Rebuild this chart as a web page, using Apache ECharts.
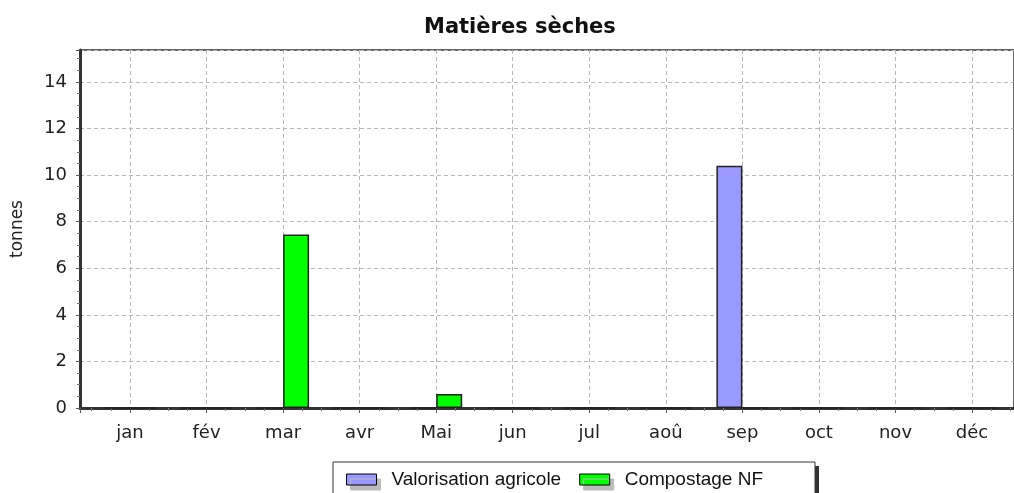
<!DOCTYPE html>
<html>
<head>
<meta charset="utf-8">
<script src="https://cdn.jsdelivr.net/npm/echarts@6/dist/echarts.min.js"></script>
<style>
    html, body { margin: 0; padding: 0; background: #fff; }
    #chart { width: 1014px; height: 493px; }
</style>
</head>
<body>
<div id="chart"></div>
<script>
// mois (index 0..11 sur l'axe x)
const months = ['jan', 'fév', 'mar', 'avr', 'Mai', 'jun', 'jul', 'aoû', 'sep', 'oct', 'nov', 'déc']
// tonnes par mois
const valorisation = [0, 0, 0, 0, 0, 0, 0, 0, 10.4, 0, 0, 0]
const compostage = [0, 0, 7.45, 0, 0.6, 0, 0, 0, 0, 0, 0, 0]
const yTicks = [0, 2, 4, 6, 8, 10, 12, 14]

const myChart = echarts.init(document.getElementById('chart'))

const axisFont = { fontFamily: 'DejaVu Sans', fontSize: 18, color: '#222' }
const gridDash = { type: [4, 3], color: '#b8b8b8', width: 1 }

function isMonth(v) {
    return Math.abs(v - Math.round(v)) < 1e-6 && Math.round(v) >= 0 && Math.round(v) < months.length
}

myChart.setOption({
    animation: false,
    title: {
        text: 'Matières sèches',
        left: 419,
        top: 12,
        textStyle: { fontFamily: 'DejaVu Sans', fontSize: 21, fontWeight: 'bold', color: '#111' }
    },
    // ombre du cadre de la légende
    graphic: [{
        type: 'rect',
        z: 1,
        shape: { x: 337, y: 466, width: 482, height: 40 },
        style: { fill: '#333' }
    }],
    grid: {
        left: 80,
        top: 50,
        bottom: 85,
        right: 0,
        show: true,
        borderColor: '#666',
        borderWidth: 2,
        containLabel: false
    },
    legend: {
        data: ['Valorisation agricole', 'Compostage NF'],
        icon: 'rect',
        z: 5,
        left: 333,
        top: 462,
        orient: 'horizontal',
        padding: [8, 52, 20, 13],
        itemGap: 18,
        itemWidth: 30,
        itemHeight: 11,
        backgroundColor: '#fff',
        borderColor: '#333',
        borderWidth: 1,
        itemStyle: {
            borderColor: '#000',
            borderWidth: 1,
            shadowColor: '#bbb',
            shadowBlur: 0,
            shadowOffsetX: 4,
            shadowOffsetY: 5
        },
        textStyle: { fontFamily: 'Liberation Sans', fontSize: 19, color: '#111', padding: [0, 0, 0, 10] }
    },
    xAxis: {
        type: 'value',
        min: -0.653,
        max: 11.548,
        minInterval: 1,
        maxInterval: 1,
        axisLine: { show: true, onZero: false, lineStyle: { color: '#333', width: 3 } },
        axisTick: { show: true, length: 5, lineStyle: { color: '#555' } },
        minorTick: { show: true, splitNumber: 4, length: 3, lineStyle: { color: '#777' } },
        splitLine: { show: true, lineStyle: gridDash },
        axisLabel: {
            ...axisFont,
            margin: 16,
            showMinLabel: false,
            showMaxLabel: false,
            formatter: v => isMonth(v) ? months[Math.round(v)] : ''
        }
    },
    yAxis: {
        type: 'value',
        min: 0,
        max: 15.37,
        interval: 2,
        name: 'tonnes',
        nameLocation: 'middle',
        nameGap: 54,
        nameTextStyle: { fontFamily: 'DejaVu Sans', fontSize: 17, color: '#222' },
        axisLine: { show: true, onZero: false, lineStyle: { color: '#333', width: 3 } },
        axisTick: { show: true, length: 4, lineStyle: { color: '#555' } },
        minorTick: { show: true, splitNumber: 4, length: 3, lineStyle: { color: '#777' } },
        splitLine: { show: true, lineStyle: gridDash },
        axisLabel: {
            ...axisFont,
            margin: 13,
            formatter: v => yTicks.indexOf(v) >= 0 ? String(v) : ''
        }
    },
    series: [
        {
            name: 'Valorisation agricole',
            type: 'bar',
            barWidth: 26,
            barGap: '0%',
            data: valorisation.map((v, i) => [i, v]),
            itemStyle: { color: '#9999ff', borderColor: '#222', borderWidth: 1.5 }
        },
        {
            name: 'Compostage NF',
            type: 'bar',
            barWidth: 26,
            barGap: '0%',
            data: compostage.map((v, i) => [i, v]),
            itemStyle: { color: '#00ff00', borderColor: '#222', borderWidth: 1.5 }
        }
    ]
})
</script>
</body>
</html>
